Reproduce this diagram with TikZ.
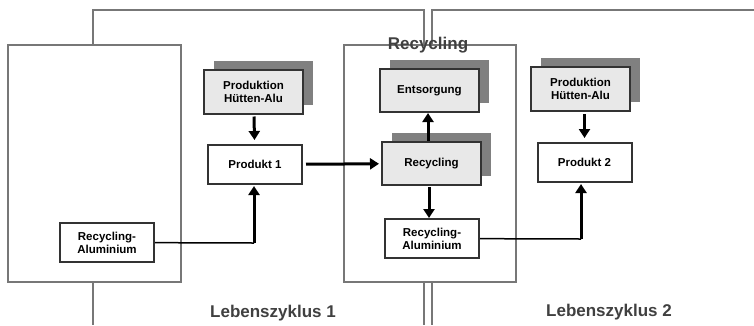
\documentclass[tikz,border=0pt]{standalone}
\usepackage{fontspec}
\setmainfont{Liberation Sans}
\usetikzlibrary{arrows.meta,shadows}
\definecolor{boxgray}{HTML}{E8E8E8}
\definecolor{shadegray}{HTML}{808080}
\definecolor{framegray}{HTML}{333333}
\definecolor{textgray}{HTML}{404040}
\definecolor{linegray}{HTML}{777777}
\tikzset{
  procbox/.style={draw=framegray, line width=2pt, fill=boxgray, minimum width=99pt, minimum height=44pt,
    align=center, font=\bfseries\fontsize{11.5}{13}\selectfont,
    general shadow={fill=shadegray, shadow xshift=10pt, shadow yshift=9pt}},
  plainbox/.style={draw=framegray, line width=2pt, fill=white, minimum width=94pt, minimum height=39pt,
    align=center, font=\bfseries\fontsize{11.5}{13}\selectfont},
  flow/.style={line width=3pt, -{Triangle[length=9pt,width=11pt]}},
  feed/.style={line width=1.5pt},
  cycle/.style={linegray, line width=1.2pt},
  bigtext/.style={textgray, font=\bfseries\fontsize{17}{19}\selectfont}
}
\def\leftframe{(8,45) rectangle (181,282)}
\def\recframe{(344,45) rectangle (516,282)}

\begin{document}
\begin{tikzpicture}[x=1pt,y=-1pt]
  \useasboundingbox (0,0) rectangle (754,325);
  % Lebenszyklen
  \draw[cycle] \leftframe;
  \draw[cycle] \recframe;
  \draw[cycle] (93,45) -- (93,10) -- (424,10) -- (424,45);
  \draw[cycle] (93,282) -- (93,325);
  \draw[cycle] (432,45) -- (432,10) -- (754,10);
  \draw[cycle] (424,282) -- (424,325);
  \draw[cycle] (432,282) -- (432,325);
  \node[bigtext] (rectitle) at (428,45) {Recycling};

  \node[procbox] (ha1) at (253.5,91.5) {Produktion\\Hütten-Alu};
  \node[plainbox] (p1) at (255,164.5) {Produkt 1};
  \node[plainbox] (ra1) at (107,242.5) {Recycling-\\Aluminium};
  \node[procbox, minimum height=43pt] (ent) at (429.5,90.5) {Entsorgung};
  \node[procbox, minimum height=43pt] (rec) at (431.5,163.5) {Recycling};
  \node[plainbox] (ra2) at (432,238.5) {Recycling-\\Aluminium};
  \node[procbox] (ha2) at (580.5,89) {Produktion\\Hütten-Alu};
  \node[plainbox] (p2) at (584.5,162.5) {Produkt 2};
  \coordinate (c1) at (254,243);
  \coordinate (c2) at (581,239);

  \draw[flow, shorten <=2pt, shorten >=4pt] (ha1) -- (p1);
  \draw[flow, shorten <=3pt, shorten >=2pt] (p1) -- (rec);
  \draw[flow] (rec.north -| 428,0) -- (ent.south -| 428,0);
  \draw[flow, shorten <=1pt] (rec.south -| 429,0) -- (ra2.north -| 429,0);
  \draw[flow, shorten <=2pt, shorten >=4pt] (ha2.south -| p2.north) -- (p2);
  \draw[feed] (ra1) -- (c1);
  \draw[flow, shorten >=1pt] (c1) -- (c1 |- p1.south);
  \draw[feed] (ra2) -- (c2);
  \draw[flow, shorten >=1pt] (c2) -- (c2 |- p2.south);

  \node[bigtext] (lz1) at (273,313) {Lebenszyklus 1};
  \node[bigtext] (lz2) at (609,312) {Lebenszyklus 2};
\end{tikzpicture}
\end{document}
